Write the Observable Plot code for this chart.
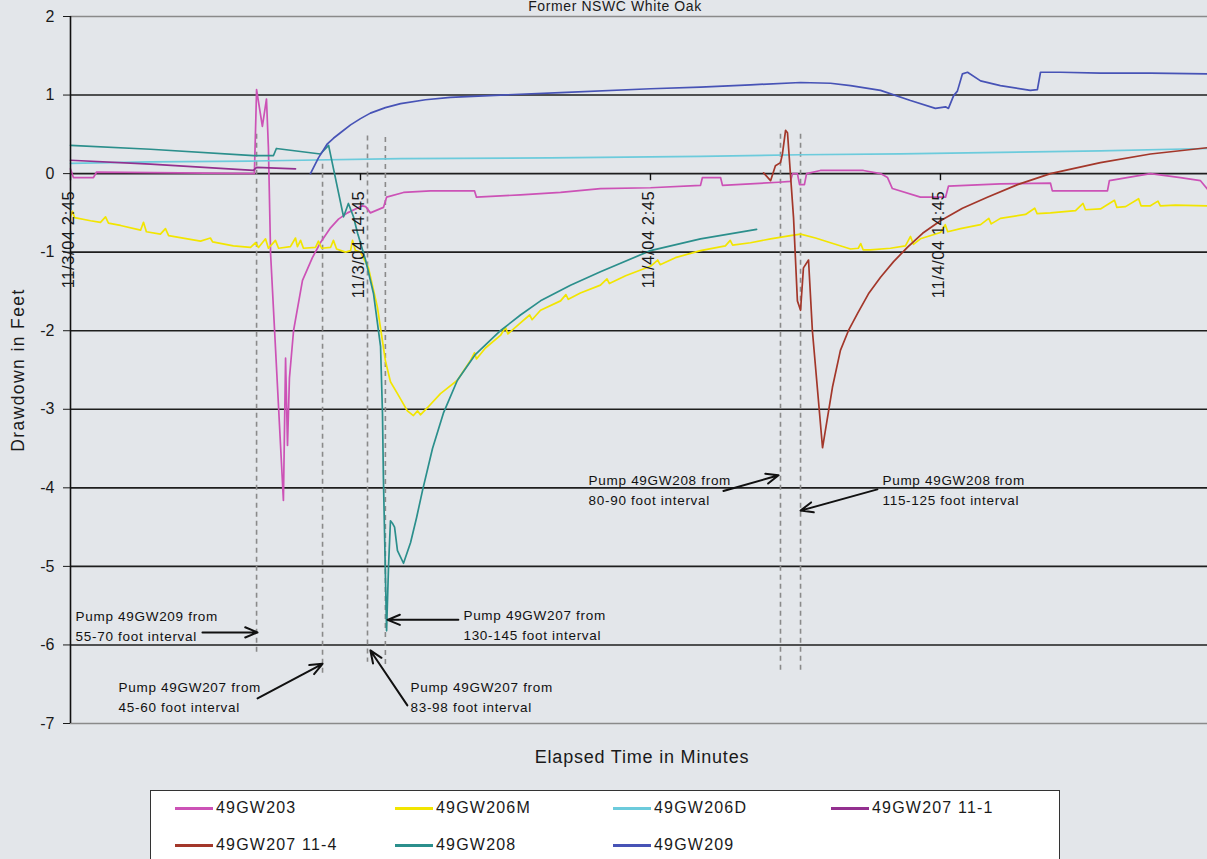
<!DOCTYPE html>
<html><head><meta charset="utf-8">
<script src="https://cdn.jsdelivr.net/npm/d3@7"></script>
<script src="https://cdn.jsdelivr.net/npm/@observablehq/plot@0.6"></script>
<style>
html,body{margin:0;padding:0;background:#e3e6ea;overflow:hidden;}
#wrap{position:relative;width:1207px;height:859px;font-family:"Liberation Sans",Arial,sans-serif;color:#1a1a1a;}
#title{position:absolute;left:415px;width:400px;top:-2px;text-align:center;font-size:14px;line-height:16px;letter-spacing:0.6px;}
#chart{position:absolute;left:0;top:0;}
#xlabel{position:absolute;left:442px;width:400px;top:747px;text-align:center;font-size:18px;letter-spacing:0.8px;}
#legend{position:absolute;left:150px;top:790px;width:910px;height:100px;background:#fff;border:1.5px solid #333;box-sizing:border-box;}
.item{position:absolute;display:flex;align-items:center;font-size:16px;letter-spacing:1.2px;height:20px;}
.sw{width:38px;height:3px;margin-right:3px;}
.annot text, g[font-size="13.5"] text{letter-spacing:0.7px;}
.xtl text, g[font-size="16.5"] text{letter-spacing:0.6px;}
.ylab text, g[font-size="17.5"] text{letter-spacing:1.4px;}
</style>
</head><body>
<div id="wrap">
  <div id="chart"></div>
  <div id="title">Former NSWC White Oak</div>
  <div id="xlabel">Elapsed Time in Minutes</div>
  <div id="legend"></div>
</div>
<script>
// ---- data (time in hours after 11/3/04 2:45, drawdown in feet) ----
const seriesNames = ["49GW203","49GW206M","49GW206D","49GW207 11-1","49GW207 11-4","49GW208","49GW209"];
const seriesColors = ["#cc52b6","#f2e500","#6ccbdc","#93308f","#a3372a","#2b8f8c","#4753b6"];

const gw203 = [[0,0.06],[0.12,-0.05],[0.95,-0.05],[1.08,0.02],[4.55,0.01],[7.61,0.0],[7.70,1.07],[7.94,0.6],[8.11,0.95],[8.19,0.33],[8.28,-1.02],[8.81,-4.16],[8.90,-2.35],[8.98,-3.46],[9.06,-2.6],[9.23,-2.0],[9.60,-1.36],[10.01,-1.07],[10.34,-0.88],[10.76,-0.69],[11.09,-0.58],[11.46,-0.5],[12.08,-0.41],[12.21,-0.42],[12.41,-0.5],[12.95,-0.43],[13.08,-0.3],[13.78,-0.24],[14.90,-0.22],[16.72,-0.22],[16.80,-0.3],[18.62,-0.27],[20.28,-0.24],[21.93,-0.19],[24.00,-0.18],[26.07,-0.15],[26.15,-0.05],[26.90,-0.05],[26.98,-0.15],[29.30,-0.11],[29.79,-0.1],[29.88,0.0],[30.08,0.0],[30.17,-0.14],[30.37,-0.14],[30.46,0.0],[31.03,0.04],[32.81,0.04],[33.52,0.0],[33.81,-0.05],[34.01,-0.19],[35.17,-0.3],[36.21,-0.3],[36.33,-0.16],[38.48,-0.13],[40.55,-0.12],[40.63,-0.22],[42.91,-0.22],[42.99,-0.09],[44.69,0.0],[45.93,-0.05],[46.76,-0.09],[47.05,-0.2]];

const gw206M = [[0,-0.55],[0.08,-0.48],[0.17,-0.56],[0.83,-0.6],[1.24,-0.62],[1.45,-0.55],[1.57,-0.63],[2.07,-0.66],[2.90,-0.72],[3.02,-0.62],[3.14,-0.74],[3.72,-0.77],[3.93,-0.7],[4.06,-0.79],[5.38,-0.86],[5.79,-0.82],[5.88,-0.87],[6.74,-0.92],[7.45,-0.94],[7.66,-0.88],[7.78,-0.94],[8.07,-0.83],[8.19,-0.95],[8.48,-0.85],[8.61,-0.95],[9.10,-0.93],[9.31,-0.82],[9.39,-0.93],[9.52,-0.85],[9.64,-0.95],[10.14,-0.94],[10.26,-0.86],[10.39,-0.95],[10.76,-0.94],[10.88,-0.85],[11.01,-0.96],[11.38,-1.0],[11.59,-0.98],[11.67,-0.85],[11.79,-0.98],[12.00,-1.0],[12.33,-1.2],[12.70,-1.7],[13.03,-2.38],[13.24,-2.65],[13.53,-2.8],[13.94,-3.02],[14.19,-3.08],[14.36,-3.02],[14.48,-3.07],[14.77,-2.98],[15.31,-2.8],[15.52,-2.75],[16.01,-2.63],[16.55,-2.38],[16.72,-2.28],[16.80,-2.36],[17.17,-2.22],[17.79,-2.06],[18.0,-1.96],[18.1,-2.04],[18.62,-1.9],[19.0,-1.8],[19.1,-1.86],[19.45,-1.74],[20.28,-1.62],[20.5,-1.54],[20.6,-1.6],[21.10,-1.52],[21.93,-1.42],[22.2,-1.34],[22.3,-1.4],[22.97,-1.3],[24.00,-1.18],[24.3,-1.1],[24.4,-1.16],[25.03,-1.07],[26.07,-0.98],[27.10,-0.92],[27.3,-0.85],[27.4,-0.91],[28.14,-0.88],[28.97,-0.83],[29.79,-0.79],[30.21,-0.77],[30.83,-0.82],[31.45,-0.88],[32.28,-0.96],[32.6,-0.95],[32.7,-0.89],[32.8,-0.97],[33.10,-0.97],[33.93,-0.95],[34.55,-0.92],[34.76,-0.8],[34.88,-0.9],[35.17,-0.83],[36.00,-0.75],[36.2,-0.65],[36.3,-0.74],[36.83,-0.7],[37.66,-0.65],[38.0,-0.57],[38.1,-0.64],[38.48,-0.57],[39.52,-0.52],[39.9,-0.44],[40.0,-0.51],[40.55,-0.5],[41.59,-0.47],[41.9,-0.38],[42.0,-0.46],[42.62,-0.45],[43.2,-0.34],[43.3,-0.43],[43.66,-0.42],[44.2,-0.32],[44.3,-0.41],[44.69,-0.41],[45.0,-0.35],[45.1,-0.41],[45.72,-0.4],[47.05,-0.41]];

const gw206D = [[0,0.13],[3.31,0.15],[7.45,0.16],[13.66,0.19],[19.86,0.2],[26.07,0.22],[30.21,0.24],[34.34,0.25],[38.48,0.27],[42.62,0.29],[47.05,0.32]];

const gw207_111 = [[0,0.17],[3.31,0.12],[7.57,0.04],[7.70,0.08],[9.31,0.06]];

const gw207_114 = [[28.68,0.01],[28.97,-0.09],[29.17,0.1],[29.38,0.14],[29.46,0.25],[29.59,0.55],[29.67,0.52],[29.92,-0.56],[30.08,-1.62],[30.21,-1.74],[30.33,-1.2],[30.54,-1.1],[30.70,-2.0],[31.12,-3.49],[31.53,-2.72],[31.86,-2.25],[32.19,-2.0],[32.57,-1.78],[33.02,-1.53],[33.52,-1.32],[34.06,-1.12],[34.63,-0.94],[35.26,-0.76],[36.00,-0.6],[36.91,-0.44],[37.94,-0.3],[39.19,-0.14],[40.55,0.0],[42.62,0.14],[44.69,0.25],[47.05,0.33]];

const gw208 = [[0,0.36],[3.31,0.31],[7.57,0.23],[8.40,0.23],[8.52,0.32],[10.34,0.25],[10.68,0.36],[11.30,-0.55],[11.50,-0.38],[11.71,-0.55],[11.88,-0.76],[12.21,-1.1],[12.54,-1.53],[12.83,-2.2],[12.91,-3.05],[12.95,-3.9],[13.08,-5.82],[13.16,-5.0],[13.24,-4.42],[13.32,-4.45],[13.41,-4.5],[13.53,-4.8],[13.78,-4.96],[14.07,-4.7],[14.32,-4.38],[14.57,-4.03],[14.98,-3.5],[15.43,-3.05],[16.01,-2.63],[16.76,-2.3],[17.79,-2.0],[18.62,-1.8],[19.45,-1.62],[20.69,-1.42],[21.93,-1.25],[24.00,-0.98],[26.07,-0.83],[28.39,-0.71]];

const gw209 = [[9.93,0.0],[10.26,0.2],[10.63,0.38],[10.88,0.45],[11.17,0.52],[11.59,0.62],[12.00,0.7],[12.41,0.77],[13.03,0.84],[13.66,0.89],[14.69,0.94],[15.72,0.97],[17.79,1.0],[20.28,1.03],[24.00,1.08],[26.07,1.1],[28.14,1.13],[30.21,1.16],[31.45,1.15],[32.28,1.12],[33.52,1.06],[34.76,0.93],[35.79,0.83],[36.21,0.85],[36.33,0.83],[36.54,0.99],[36.70,1.05],[36.91,1.27],[37.12,1.29],[37.66,1.18],[38.48,1.12],[39.72,1.06],[40.01,1.07],[40.14,1.29],[40.97,1.29],[42.62,1.28],[44.69,1.28],[47.05,1.27]];

const xTickHours = [0, 12, 24, 36];
const xTickLabels = ["11/3/04 2:45", "11/3/04 14:45", "11/4/04 2:45", "11/4/04 14:45"];
const yTicks = [-7, -6, -5, -4, -3, -2, -1, 0, 1, 2];

const pumpLines = [
  {h: 7.70, top: 0.5, bottom: -6.1},
  {h: 10.43, top: 0.12, bottom: -6.36},
  {h: 12.29, top: 0.48, bottom: -6.22},
  {h: 13.03, top: 0.46, bottom: -6.29},
  {h: 29.38, top: 0.5, bottom: -6.36},
  {h: 30.21, top: 0.5, bottom: -6.36}
];
const annotations = [
  {h: 0.21, v: -5.74, text: "Pump 49GW209 from\n55-70 foot interval"},
  {h: 1.99, v: -6.64, text: "Pump 49GW207 from\n45-60 foot interval"},
  {h: 14.07, v: -6.64, text: "Pump 49GW207 from\n83-98 foot interval"},
  {h: 16.26, v: -5.73, text: "Pump 49GW207 from\n130-145 foot interval"},
  {h: 21.44, v: -4.01, text: "Pump 49GW208 from\n80-90 foot interval"},
  {h: 33.60, v: -4.01, text: "Pump 49GW208 from\n115-125 foot interval"}
];
const arrows = [
  {h1: 5.46, v1: -5.84, h2: 7.74, v2: -5.84},
  {h1: 7.74, v1: -6.68, h2: 10.43, v2: -6.24},
  {h1: 13.94, v1: -6.77, h2: 12.41, v2: -6.07},
  {h1: 16.05, v1: -5.68, h2: 13.12, v2: -5.68},
  {h1: 27.02, v1: -4.04, h2: 29.30, v2: -3.84},
  {h1: 33.39, v1: -4.02, h2: 30.21, v2: -4.29}
];

// ---- build table ----
const start = Date.UTC(2004, 10, 3, 2, 45);
const toDate = h => new Date(start + h * 3600e3);
const seriesData = [gw203, gw206M, gw206D, gw207_111, gw207_114, gw208, gw209];
const rows = [];
seriesData.forEach((pts, i) => pts.forEach(([h, v]) => rows.push({series: seriesNames[i], time: toDate(h), value: v})));
const xTicks = xTickHours.map((h, i) => ({time: toDate(h), label: xTickLabels[i]}));

const chart = Plot.plot({
  width: 1207, height: 740,
  marginLeft: 70, marginRight: 0, marginTop: 16, marginBottom: 17,
  style: {background: "transparent", fontFamily: "'Liberation Sans', Arial, sans-serif", fontSize: "16px", color: "#1a1a1a", overflow: "visible"},
  x: {type: "utc", domain: [toDate(0), toDate(47.05)], axis: null},
  y: {domain: [-7, 2], ticks: yTicks, tickSize: 7, tickPadding: 9, tickFormat: d => String(d), label: null},
  color: {domain: seriesNames, range: seriesColors},
  marks: [
    Plot.ruleY(yTicks.filter(d => d > -7 && d < 2), {stroke: "#1e1e1e", strokeWidth: 1.6}),
    Plot.ruleY([-7, 2], {stroke: "#8a8a8a", strokeWidth: 1.6}),
    Plot.ruleX(pumpLines, {x: d => toDate(d.h), y1: "top", y2: "bottom", stroke: "#8a8a8a", strokeWidth: 1.6, strokeDasharray: "5,4"}),
    Plot.line(rows, {x: "time", y: "value", z: "series", stroke: "series", strokeWidth: 1.7}),
    Plot.ruleX([toDate(0)], {y1: -7, y2: 2, stroke: "#111", strokeWidth: 1.6}),
    Plot.ruleX(xTicks, {x: "time", y1: 0, y2: -0.09, stroke: "#111", strokeWidth: 1.4}),
    Plot.text(xTicks, {x: "time", y: () => 0, text: "label", rotate: -90, textAnchor: "end", lineAnchor: "middle", dy: 17, dx: -2, fontSize: 16.5, fill: "#1a1a1a", className: "xtl"}),
    Plot.text(["Drawdown in Feet"], {frameAnchor: "left", text: d => d, rotate: -90, textAnchor: "middle", dx: -52, fontSize: 17.5, fill: "#1a1a1a", className: "ylab"}),
    Plot.arrow(arrows, {x1: d => toDate(d.h1), y1: "v1", x2: d => toDate(d.h2), y2: "v2", stroke: "#111", strokeWidth: 2, headLength: 10, headAngle: 45}),
    Plot.text(annotations, {x: d => toDate(d.h), y: "v", text: "text", textAnchor: "start", lineAnchor: "middle", lineHeight: 1.5, fontSize: 13.5, fill: "#111", className: "annot"})
  ]
});
document.getElementById("chart").appendChild(chart);

// ---- legend ----
const legend = document.getElementById("legend");
const colX = [24, 244, 462, 680];
seriesNames.forEach((name, i) => {
  const row = Math.floor(i / 4), col = i % 4;
  const el = document.createElement("div");
  el.className = "item";
  el.style.left = colX[col] + "px";
  el.style.top = (row === 0 ? 7 : 44) + "px";
  el.innerHTML = `<span class="sw" style="background:${seriesColors[i]}"></span><span>${name}</span>`;
  legend.appendChild(el);
});
</script>
</body></html>
